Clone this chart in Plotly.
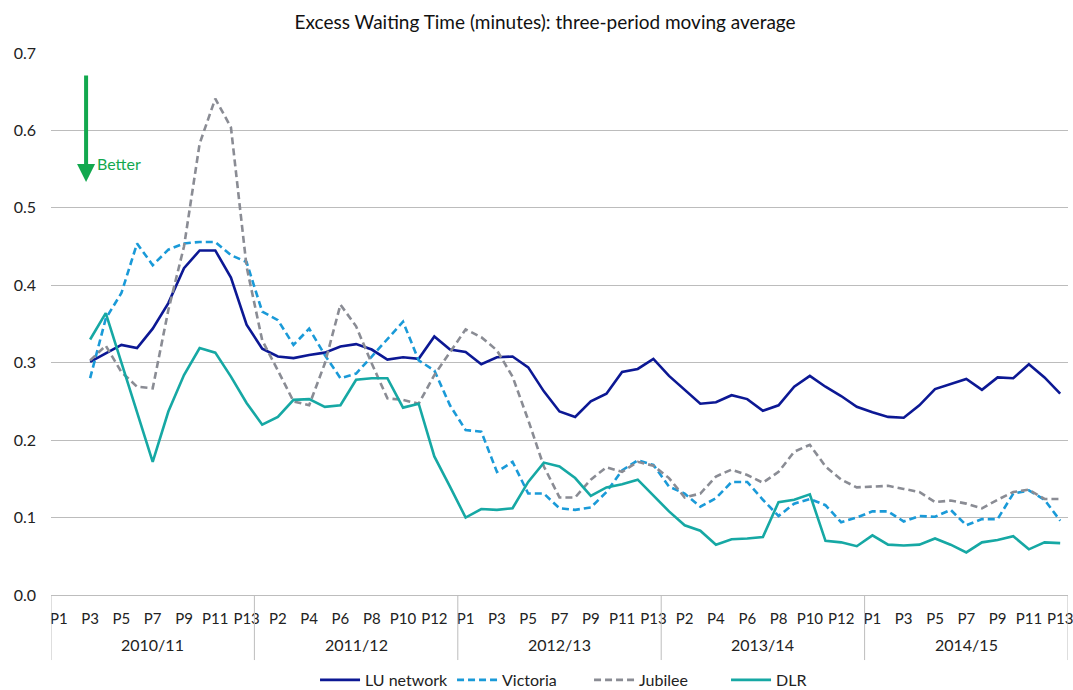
import plotly.graph_objects as go

years = ["2010/11", "2011/12", "2012/13", "2013/14", "2014/15"]
periods = ["P1", "P2", "P3", "P4", "P5", "P6", "P7", "P8", "P9", "P10", "P11", "P12", "P13"]

lu_network = [None, None,
    0.301, 0.312, 0.323, 0.319, 0.344, 0.377, 0.422, 0.445, 0.445, 0.410, 0.349,
    0.318, 0.308, 0.306, 0.310, 0.313, 0.321, 0.324, 0.317, 0.304, 0.307, 0.305, 0.334, 0.317,
    0.314, 0.298, 0.307, 0.308, 0.294, 0.263, 0.237, 0.230, 0.250, 0.260, 0.288, 0.292, 0.305,
    0.283, 0.265, 0.247, 0.249, 0.258, 0.253, 0.238, 0.245, 0.269, 0.283, 0.269, 0.257, 0.243,
    0.236, 0.230, 0.229, 0.245, 0.266, 0.272, 0.279, 0.265, 0.281, 0.280, 0.298, 0.281, 0.260]

victoria = [None, None,
    0.280, 0.357, 0.390, 0.454, 0.426, 0.446, 0.454, 0.456, 0.456, 0.439, 0.430,
    0.366, 0.355, 0.323, 0.344, 0.310, 0.280, 0.286, 0.308, 0.330, 0.353, 0.303, 0.290, 0.245,
    0.213, 0.211, 0.159, 0.172, 0.131, 0.131, 0.112, 0.110, 0.113, 0.133, 0.161, 0.174, 0.168,
    0.140, 0.131, 0.114, 0.125, 0.146, 0.146, 0.123, 0.102, 0.118, 0.124, 0.116, 0.094, 0.100,
    0.108, 0.108, 0.095, 0.102, 0.101, 0.110, 0.090, 0.098, 0.098, 0.131, 0.135, 0.123, 0.096]

jubilee = [None, None,
    0.303, 0.322, 0.288, 0.269, 0.267, 0.368, 0.450, 0.583, 0.641, 0.604, 0.424,
    0.329, 0.290, 0.250, 0.245, 0.299, 0.375, 0.347, 0.299, 0.254, 0.252, 0.247, 0.284, 0.314,
    0.343, 0.333, 0.316, 0.282, 0.226, 0.166, 0.126, 0.126, 0.149, 0.165, 0.159, 0.172, 0.167,
    0.151, 0.126, 0.131, 0.153, 0.162, 0.155, 0.145, 0.159, 0.185, 0.194, 0.166, 0.149, 0.139,
    0.140, 0.141, 0.137, 0.133, 0.120, 0.122, 0.118, 0.112, 0.123, 0.133, 0.136, 0.124, 0.124]

dlr = [None, None,
    0.330, 0.364, 0.300, 0.237, 0.172, 0.237, 0.284, 0.319, 0.313, 0.282, 0.248,
    0.220, 0.230, 0.252, 0.253, 0.243, 0.245, 0.278, 0.280, 0.280, 0.242, 0.247, 0.179, 0.140,
    0.100, 0.111, 0.110, 0.112, 0.146, 0.171, 0.166, 0.151, 0.128, 0.139, 0.143, 0.149, 0.129,
    0.108, 0.090, 0.083, 0.065, 0.072, 0.073, 0.075, 0.120, 0.123, 0.130, 0.070, 0.068, 0.063,
    0.077, 0.065, 0.064, 0.065, 0.073, 0.065, 0.055, 0.068, 0.071, 0.076, 0.059, 0.068, 0.067]

# category labels (one per period, every year)
cats = [f"{y} {p}" for y in years for p in periods]
tick_vals = cats[::2]
tick_text = [c.split(" ")[1] for c in tick_vals]

FONT = "Lato"
fig = go.Figure()

series = [
    ("LU network", lu_network, "#0c1894", "solid"),
    ("Victoria", victoria, "#1a9ad8", "7px,4px"),
    ("Jubilee", jubilee, "#8a8c94", "7px,4px"),
    ("DLR", dlr, "#16a8a4", "solid"),
]
for name, vals, col, dash in series:
    fig.add_trace(go.Scatter(
        x=cats, y=vals, name=name, mode="lines",
        line=dict(color=col, width=2.6, dash=dash),
        connectgaps=False,
    ))

n = len(cats)
# axis box: left edge, year dividers, right edge
for k in range(len(years) + 1):
    fig.add_shape(type="line", xref="x", yref="paper",
                  x0=k * len(periods) - 0.5, x1=k * len(periods) - 0.5,
                  y0=0, y1=-0.12, line=dict(color="#bdbdbd", width=1))

# year labels
for k, y in enumerate(years):
    fig.add_annotation(xref="x", yref="paper", x=k * len(periods) + 6, y=-0.092,
                       text=y, showarrow=False, yanchor="middle",
                       font=dict(family=FONT, size=16, color="#222222"))

# "Better" arrow
fig.add_annotation(xref="paper", yref="paper", x=0.0345, y=0.762,
                   ax=0, ay=-108, text="", showarrow=True,
                   arrowhead=2, arrowsize=0.9, arrowwidth=4, arrowcolor="#12a84e")
fig.add_annotation(xref="paper", yref="paper", x=0.0434, y=0.797,
                   text="Better", showarrow=False, xanchor="left", yanchor="middle",
                   font=dict(family=FONT, size=16, color="#12a84e"))

fig.update_layout(
    template="none",
    width=1073, height=690,
    margin=dict(l=51, r=5, t=53, b=95),
    paper_bgcolor="white", plot_bgcolor="white",
    font=dict(family=FONT, size=16, color="#222222"),
    title=dict(text="Excess Waiting Time (minutes): three-period moving average",
               x=0.508, xref="container", y=0.968, yref="container",
               xanchor="center", yanchor="middle",
               font=dict(family=FONT, size=19, color="#111111")),
    showlegend=True,
    legend=dict(orientation="h", x=0.2936, xanchor="left", xref="container",
                y=0.0145, yanchor="middle", yref="container",
                font=dict(family=FONT, size=16, color="#222222"),
                itemwidth=40, traceorder="normal",
                entrywidth=82, entrywidthmode="pixels",
                bgcolor="rgba(0,0,0,0)"),
    hovermode=False,
)
fig.update_xaxes(type="category", categoryorder="array", categoryarray=cats,
                 range=[-0.5, n - 0.5], automargin=False,
                 tickmode="array", tickvals=tick_vals, ticktext=tick_text,
                 showgrid=False, showline=True, linecolor="#bdbdbd", linewidth=1,
                 ticks="", ticklabelstandoff=10, tickangle=0,
                 tickfont=dict(family=FONT, size=15, color="#222222"))
fig.update_yaxes(range=[0, 0.7], dtick=0.1, tickformat=".1f", automargin=False,
                 showgrid=True, gridcolor="#bcbcbc", gridwidth=1,
                 zeroline=False, showline=False, ticks="",
                 ticklabelstandoff=14,
                 tickfont=dict(family=FONT, size=16, color="#222222"))

fig.write_html("out.html", config={"displayModeBar": False},
               post_script="document.body.style.margin='0';document.body.style.overflow='hidden';")
